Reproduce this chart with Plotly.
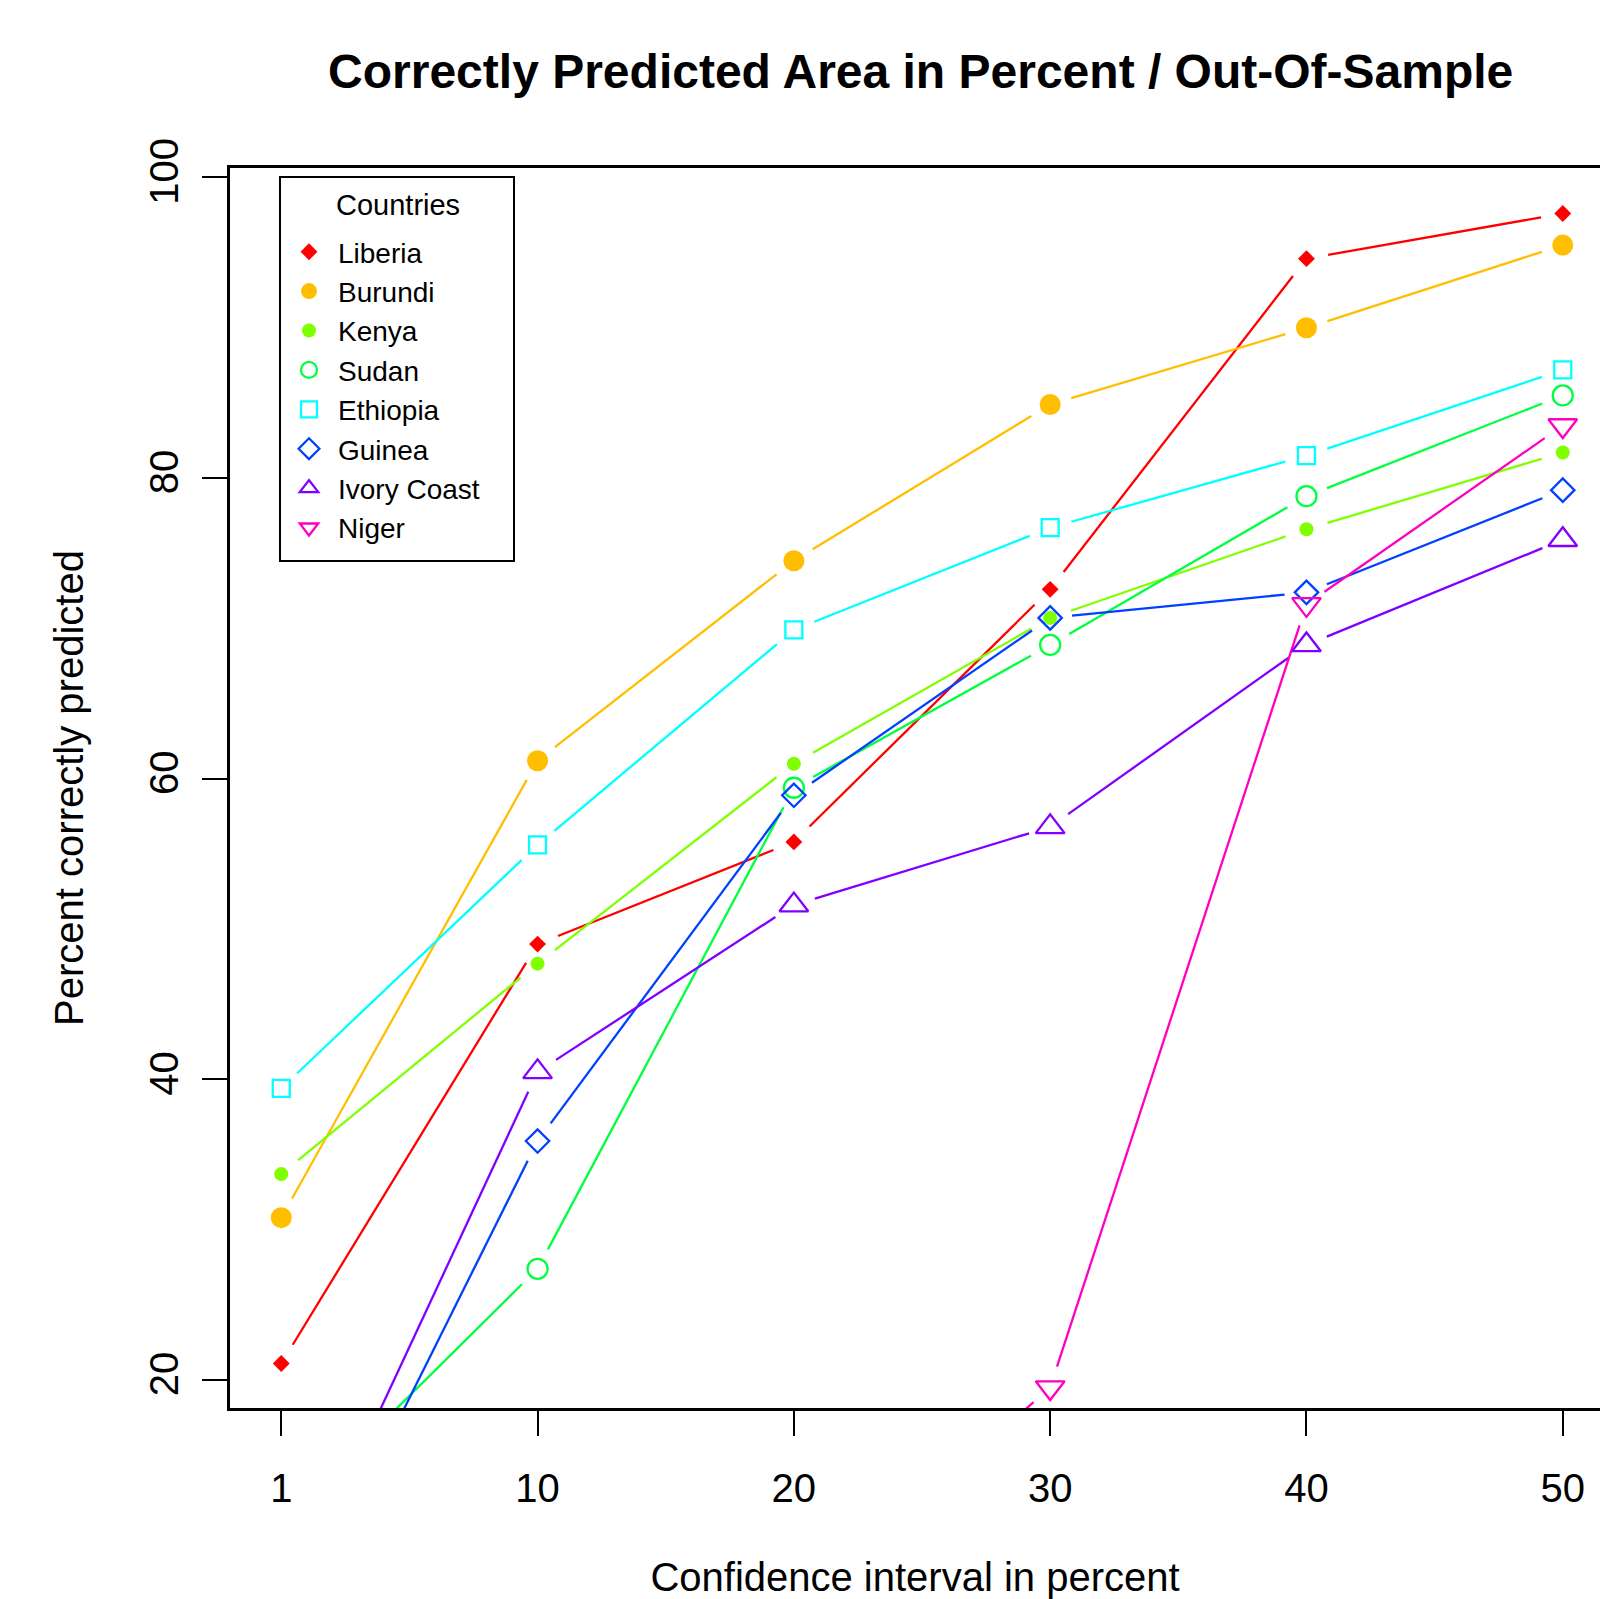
import math
import plotly.graph_objects as go

# ---------------- data ----------------
x_labels = ["1", "10", "20", "30", "40", "50"]
countries = ["Liberia", "Burundi", "Kenya", "Sudan", "Ethiopia", "Guinea", "Ivory Coast", "Niger"]

liberia = [21.1, 49.0, 55.8, 72.6, 94.6, 97.6]
burundi = [30.8, 61.2, 74.5, 84.9, 90.0, 95.5]
kenya = [33.7, 47.7, 61.0, 70.7, 76.6, 81.7]
sudan = [10.5, 27.4, 59.4, 68.9, 78.8, 85.5]
ethiopia = [39.4, 55.6, 69.9, 76.7, 81.5, 87.2]
guinea = [1.7, 35.9, 58.9, 70.7, 72.4, 79.2]
ivory_coast = [3.9, 40.5, 51.6, 56.8, 68.9, 75.9]
niger = [0.0, 0.0, 4.5, 19.5, 71.6, 83.5]

series = [liberia, burundi, kenya, sudan, ethiopia, guinea, ivory_coast, niger]

# ---------------- style ----------------
colors = ["#FF0000", "#FFBF00", "#80FF00", "#00FF40", "#00FFFF", "#0040FF", "#8000FF", "#FF00BF"]
symbols = ["diamond", "circle", "circle", "circle-open", "square-open", "diamond-open",
           "triangle-up-open", "triangle-down-open"]
sizes = [13, 21, 14, 20, 17, 18, 25, 25]

W, H = 1600, 1599
ML, MR, MT, MB = 230, 0, 168, 191
plot_w = W - ML - MR
plot_h = H - MT - MB
x_range = [0.8, 0.8 + plot_w / 256.3]
y_range = [18.14, 100.63]
sx = plot_w / (x_range[1] - x_range[0])
sy = plot_h / (y_range[1] - y_range[0])
GAP = 22.0  # px gap around points (R type="b")

x_pos = list(range(1, len(x_labels) + 1))


def gapped(xs, ys):
    gx, gy = [], []
    for i in range(len(xs) - 1):
        x0, y0, x1, y1 = xs[i], ys[i], xs[i + 1], ys[i + 1]
        dx, dy = (x1 - x0) * sx, (y1 - y0) * sy
        L = math.hypot(dx, dy)
        if L <= 2 * GAP:
            continue
        t = GAP / L
        gx += [x0 + t * (x1 - x0), x1 - t * (x1 - x0), None]
        gy += [y0 + t * (y1 - y0), y1 - t * (y1 - y0), None]
    return gx, gy


def px_x(px):
    return (px - ML) / plot_w


def px_y(py):
    return 1 - (py - MT) / plot_h


fig = go.Figure()
for name, ys, c in zip(countries, series, colors):
    lx, ly = gapped(x_pos, ys)
    fig.add_trace(go.Scatter(x=lx, y=ly, mode="lines", line=dict(color=c, width=2.3),
                             showlegend=False, hoverinfo="skip"))

for name, ys, c, s, sz in zip(countries, series, colors, symbols, sizes):
    fig.add_trace(go.Scatter(
        x=x_pos, y=ys, mode="markers", name=name,
        marker=dict(symbol=s, size=sz, color=c,
                    line=dict(color=c, width=2.3 if "open" in s else 0)),
    ))

font_family = "Liberation Sans, Arial, Helvetica, sans-serif"

# legend frame (box) and title
fig.add_shape(type="rect", xref="paper", yref="paper",
              x0=px_x(280), x1=px_x(514), y0=px_y(561), y1=px_y(177),
              line=dict(color="black", width=2), fillcolor="rgba(0,0,0,0)", layer="above")
fig.add_annotation(text="Countries", xref="paper", yref="paper",
                   x=px_x(398), y=px_y(205), xanchor="center", yanchor="middle",
                   showarrow=False, font=dict(size=29, family=font_family, color="black"))

fig.update_layout(
    width=W, height=H,
    margin=dict(l=ML, r=MR, t=MT, b=MB, autoexpand=False),
    paper_bgcolor="white", plot_bgcolor="white",
    font=dict(family=font_family, color="black", size=40),
    title=dict(text="<b>Correctly Predicted Area in Percent / Out-Of-Sample</b>",
               font=dict(size=48, family=font_family, color="black"),
               xref="container", x=920.7 / W, xanchor="center",
               yref="container", y=1 - 71.0 / H, yanchor="middle"),
    xaxis=dict(range=x_range, tickmode="array", tickvals=x_pos, ticktext=x_labels,
               showgrid=False, zeroline=False, showline=True, linecolor="black", linewidth=3,
               mirror=True, ticks="outside", ticklen=25, tickwidth=2, tickcolor="black",
               tickfont=dict(size=40), ticklabelstandoff=18,
               title=dict(text="Confidence interval in percent", font=dict(size=40), standoff=69),
               automargin=False),
    yaxis=dict(range=y_range, tickmode="array", tickvals=[20, 40, 60, 80, 100],
               showgrid=False, zeroline=False, showline=True, linecolor="black", linewidth=3,
               mirror=False, ticks="outside", ticklen=25, tickwidth=2, tickcolor="black",
               tickangle=-90, tickfont=dict(size=40), ticklabelstandoff=8,
               title=dict(text="Percent correctly predicted", font=dict(size=40), standoff=47),
               automargin=False),
    legend=dict(x=px_x(280), y=px_y(227), xanchor="left", yanchor="top",
                bgcolor="rgba(0,0,0,0)", borderwidth=0,
                font=dict(size=28, family=font_family, color="black"),
                itemwidth=48, itemsizing="trace"),
)

fig.write_html("out.html", config={"displayModeBar": False},
               post_script="document.body.style.margin='0px';document.body.style.overflow='hidden';")
